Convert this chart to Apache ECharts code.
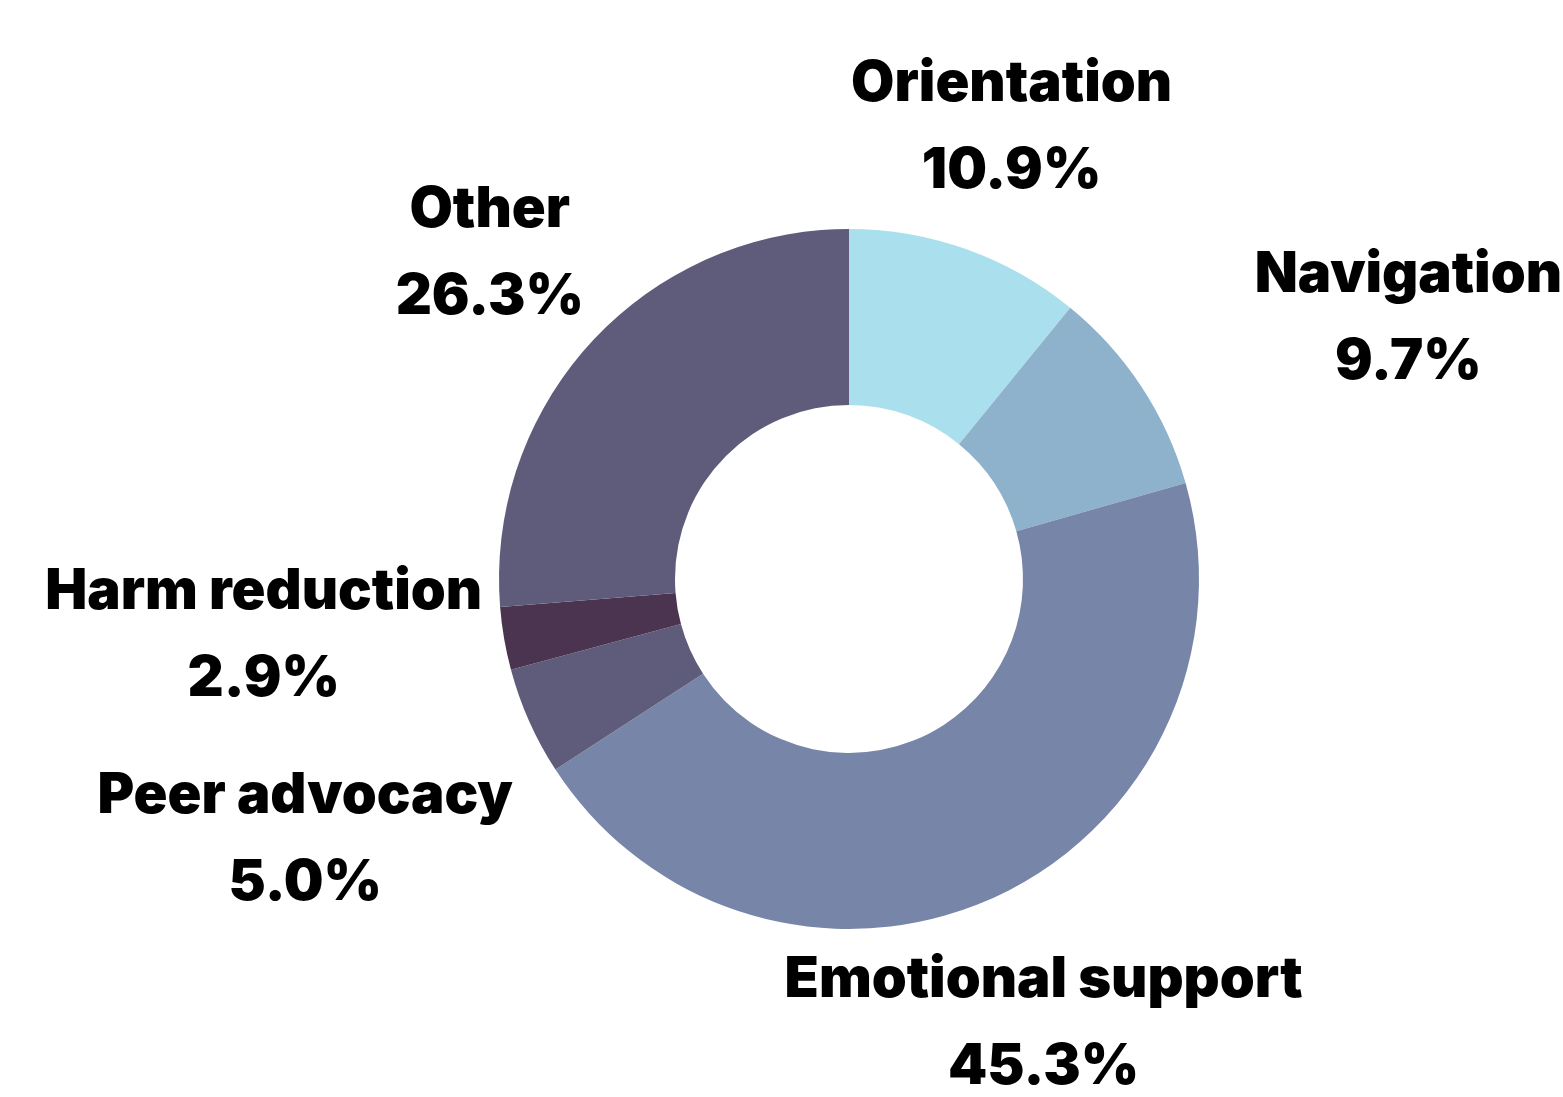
<!DOCTYPE html>
<html>
<head>
<meta charset="utf-8">
<script src="https://cdn.jsdelivr.net/npm/echarts@6/dist/echarts.min.js"></script>
<style>
  html, body { margin: 0; padding: 0; background: #ffffff; }
  #chart { width: 1563px; height: 1097px; }
</style>
</head>
<body>
<div id="chart"></div>
<script>
const categories = ['Orientation', 'Navigation', 'Emotional support', 'Peer advocacy', 'Harm reduction', 'Other'];
const shares = [10.9, 9.7, 45.3, 5.0, 2.9, 26.3];
const colors = ['#aadfee', '#8eb1cc', '#7786a8', '#5f5b7b', '#4a344f', '#5f5b7b'];

// label placement: distance from centre and angular nudge (deg) off the slice's mid angle
const labelDist = [480, 617, 485, 603, 588, 485];
const labelNudge = [0.2, 8.4, 0.8, -1.6, 4.3, -0.5];

const cx = 849, cy = 579;
const total = shares.reduce((a, b) => a + b, 0);
const midAngles = [];
let acc = 0;
shares.forEach((v) => {
  midAngles.push(((acc + v / 2) / total) * 360);
  acc += v;
});

const chart = echarts.init(document.getElementById('chart'));

const option = {
  animation: false,
  series: [
    {
      type: 'pie',
      center: [cx, cy],
      radius: [174, 350],
      startAngle: 90,
      clockwise: true,
      avoidLabelOverlap: false,
      itemStyle: { borderWidth: 0 },
      label: {
        show: true,
        position: 'outside',
        formatter: (p) => `${p.name}\n${p.value.toFixed(1)}%`,
        color: '#000000',
        fontFamily: 'Inter',
        fontWeight: 900,
        fontSize: 56,
        lineHeight: 87,
        align: 'center',
      },
      labelLine: { show: false },
      labelLayout: (params) => {
        const i = params.dataIndex;
        const a = ((midAngles[i] + labelNudge[i]) * Math.PI) / 180;
        return {
          x: cx + labelDist[i] * Math.sin(a),
          y: cy - labelDist[i] * Math.cos(a),
          align: 'center',
          verticalAlign: 'middle',
        };
      },
      data: categories.map((name, i) => ({
        name,
        value: shares[i],
        itemStyle: { color: colors[i] },
      })),
    },
  ],
};

chart.setOption(option);
</script>
</body>
</html>
